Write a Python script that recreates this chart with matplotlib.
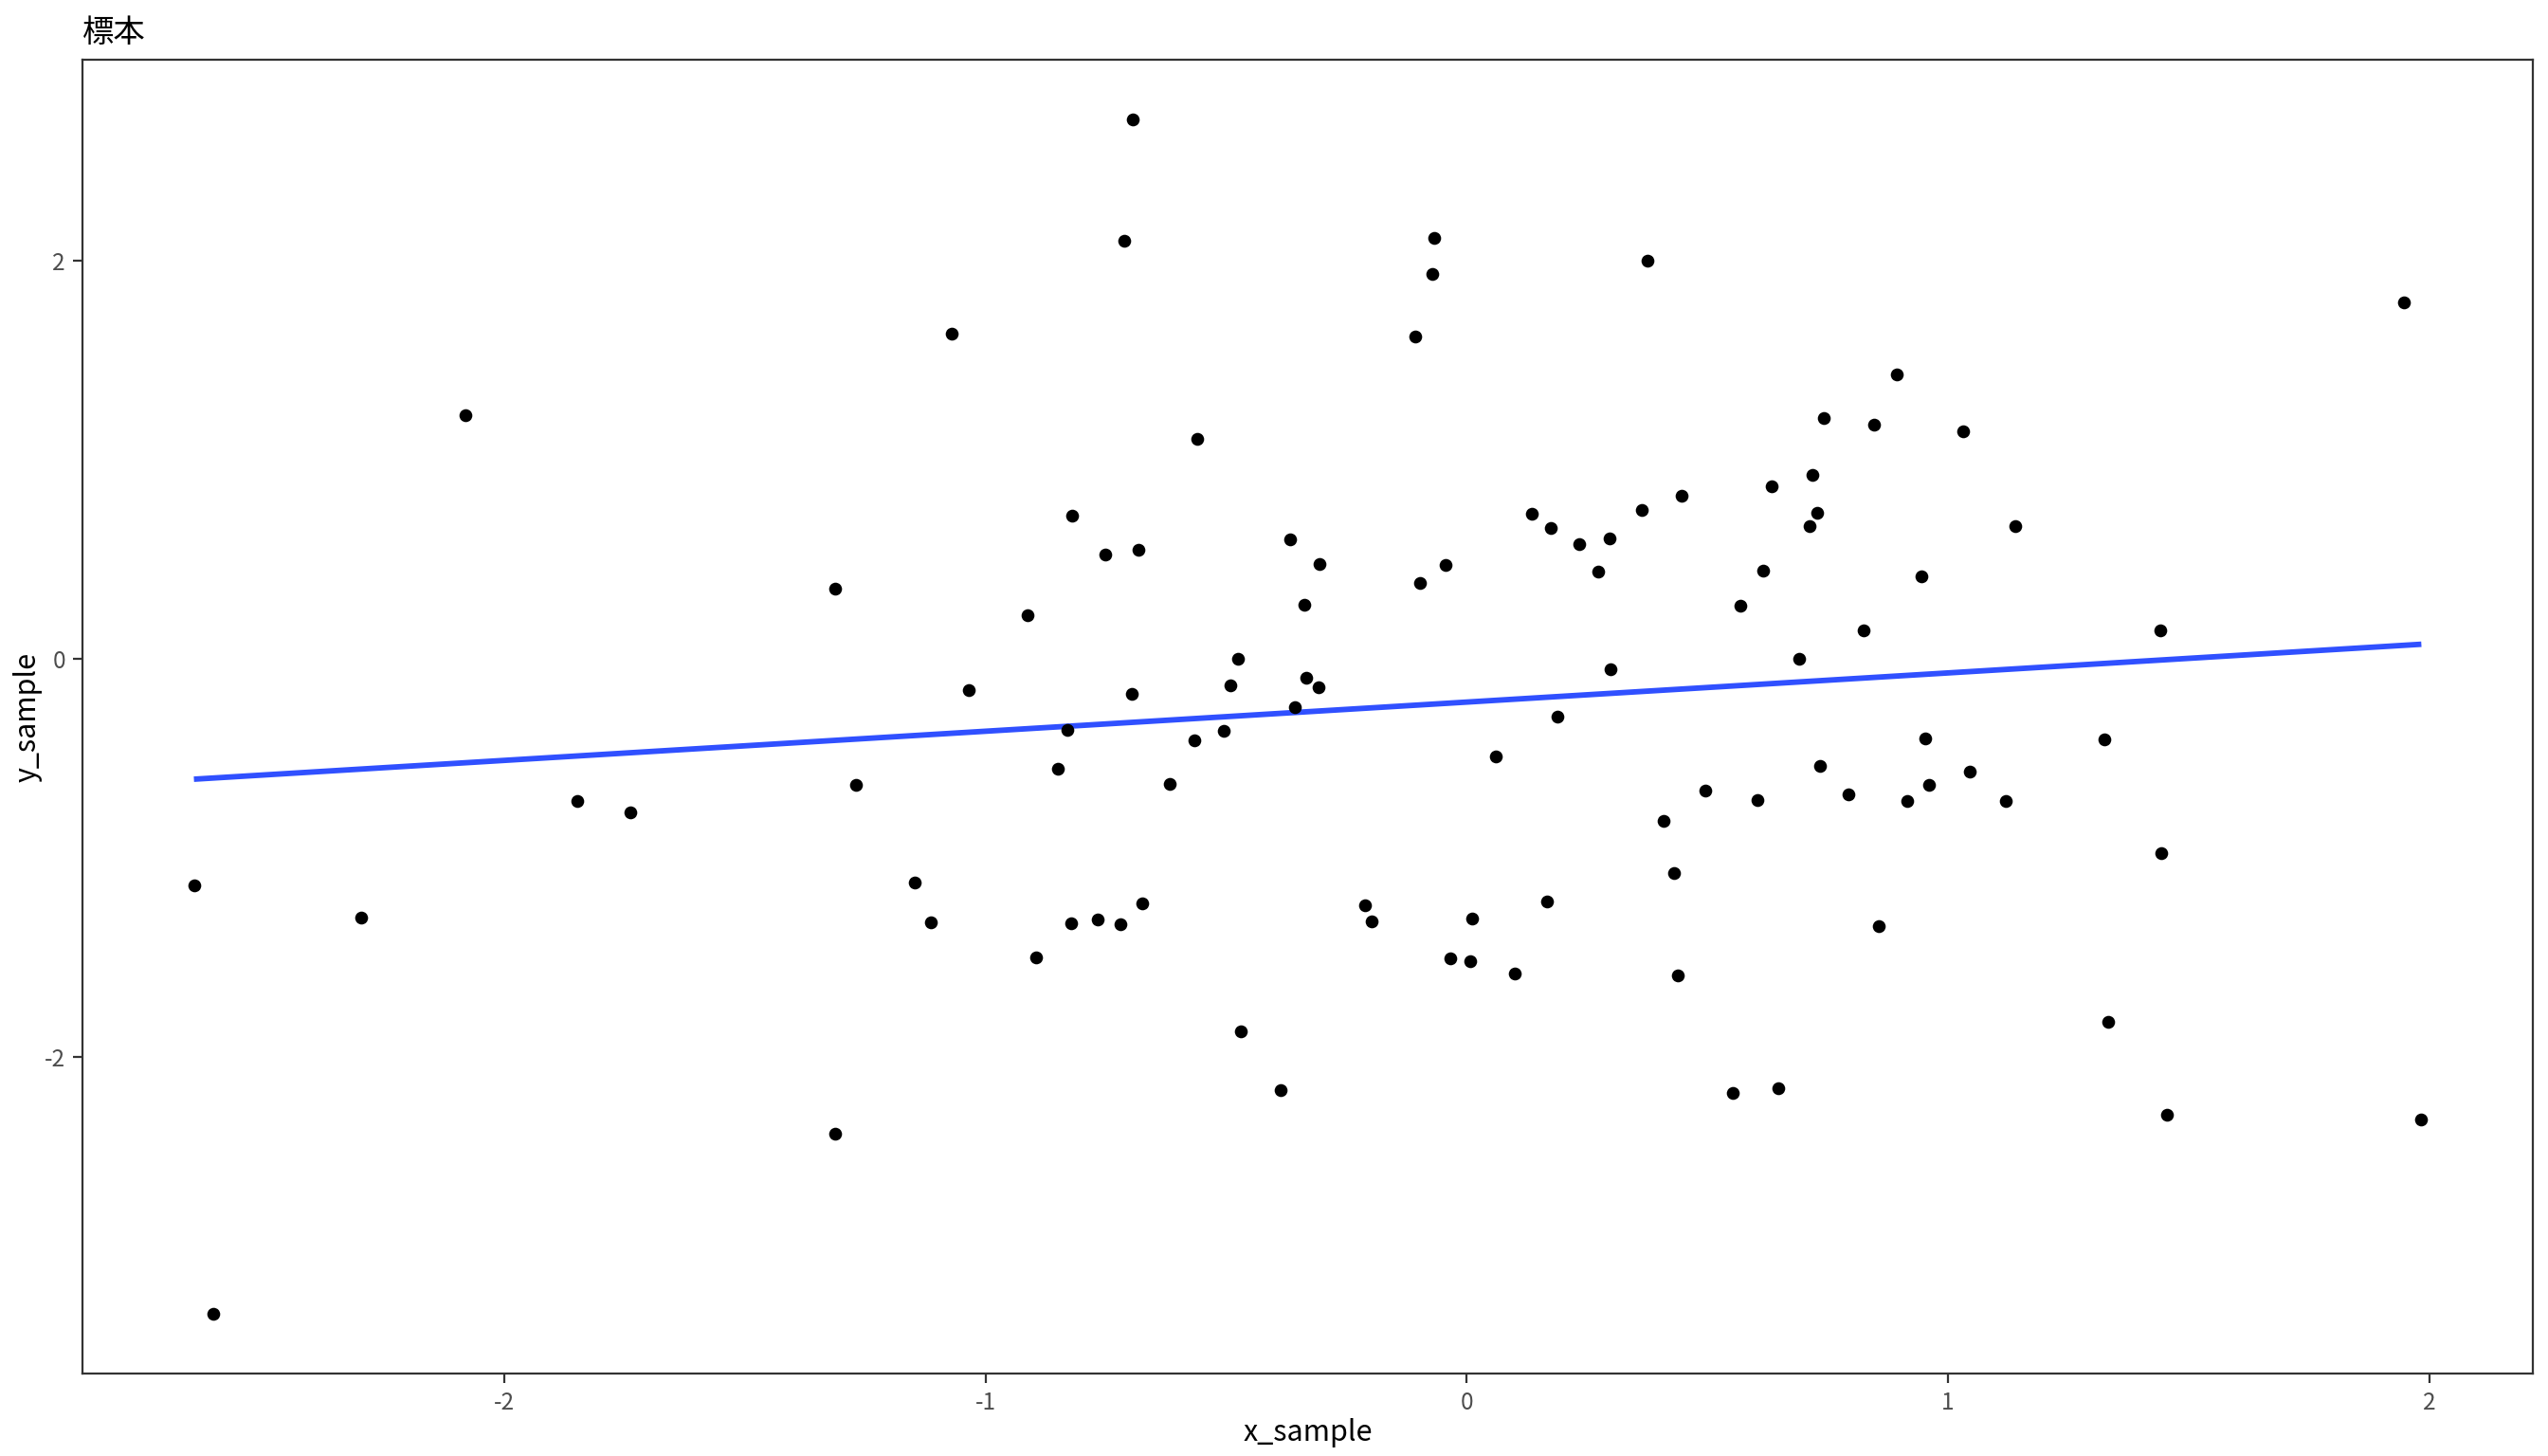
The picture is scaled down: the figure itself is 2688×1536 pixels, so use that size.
import matplotlib
matplotlib.use("Agg")
import matplotlib.pyplot as plt
import numpy as np

plt.rcParams['font.family'] = ['Noto Sans CJK JP', 'DejaVu Sans']
plt.rcParams['axes.unicode_minus'] = False

# sample values
x_sample = np.array([
    -2.646, -2.605, -2.298, -2.082, -1.849, -1.738, -1.313, -1.313, -1.269, -1.147,
    -1.114, -1.070, -1.036, -0.914, -0.896, -0.850, -0.830, -0.820, -0.823, -0.767,
    -0.752, -0.720, -0.712, -0.697, -0.695, -0.682, -0.674, -0.618, -0.566, -0.560,
    -0.505, -0.492, -0.475, -0.469, -0.388, -0.368, -0.357, -0.337, -0.333, -0.308,
    -0.306, -0.212, -0.198, -0.108, -0.097, -0.071, -0.068, -0.044, -0.035, 0.007,
    0.010, 0.061, 0.099, 0.136, 0.166, 0.174, 0.189, 0.233, 0.272, 0.297,
    0.299, 0.363, 0.375, 0.409, 0.431, 0.439, 0.447, 0.495, 0.553, 0.568,
    0.603, 0.616, 0.633, 0.648, 0.691, 0.712, 0.718, 0.729, 0.734, 0.742,
    0.793, 0.824, 0.846, 0.857, 0.894, 0.916, 0.945, 0.953, 0.961, 1.031,
    1.045, 1.120, 1.140, 1.326, 1.333, 1.441, 1.444, 1.455, 1.947, 1.984,
])
y_sample = np.array([
    -1.138, -3.289, -1.301, 1.226, -0.714, -0.771, 0.354, -2.385, -0.632, -1.121,
    -1.325, 1.633, -0.156, 0.218, -1.499, -0.554, -0.356, 0.719, -1.326, -1.309,
    0.525, -1.334, 2.098, -0.174, 2.709, 0.546, -1.226, -0.628, -0.407, 1.105,
    -0.362, -0.131, 0.001, -1.871, -2.165, 0.601, -0.240, 0.273, -0.094, -0.141,
    0.478, -1.237, -1.316, 1.617, 0.381, 1.935, 2.114, 0.473, -1.503, -1.517,
    -1.303, -0.488, -1.582, 0.729, -1.218, 0.659, -0.292, 0.578, 0.436, 0.606,
    -0.052, 0.748, 2.000, -0.812, -1.077, -1.591, 0.818, -0.663, -2.181, 0.267,
    -0.710, 0.443, 0.869, -2.157, -0.001, 0.667, 0.922, 0.733, -0.536, 1.210,
    -0.681, 0.141, 1.177, -1.341, 1.427, -0.712, 0.415, -0.400, -0.633, 1.141,
    -0.568, -0.712, 0.669, -0.404, -1.822, 0.142, -0.975, -2.287, 1.788, -2.311,
])
x_ticks = [-2, -1, 0, 1, 2]
y_ticks = [-2, 0, 2]

fig = plt.figure(figsize=(13.44, 7.68), dpi=200)
ax = fig.add_axes([0.0324, 0.0566, 0.9616, 0.9024])

ax.scatter(x_sample, y_sample, s=24, color='black', linewidths=0, zorder=3)

# linear fit, like geom_smooth(method = "lm", se = FALSE)
slope, intercept = np.polyfit(x_sample, y_sample, 1)
xs = np.array([x_sample.min(), x_sample.max()])
ax.plot(xs, intercept + slope * xs, color='#3050FF', lw=2.1, zorder=2,
        solid_capstyle='butt')

# ggplot-style 5% expansion
xr = x_sample.max() - x_sample.min()
yr = y_sample.max() - y_sample.min()
ax.set_xlim(x_sample.min() - 0.05 * xr, x_sample.max() + 0.05 * xr)
ax.set_ylim(y_sample.min() - 0.05 * yr, y_sample.max() + 0.05 * yr)

ax.set_xticks(x_ticks)
ax.set_yticks(y_ticks)
ax.tick_params(colors='#333333', labelcolor='#4D4D4D', labelsize=8.8,
               length=3.5, width=0.8, pad=3)
for sp in ax.spines.values():
    sp.set_color('#333333')
    sp.set_linewidth(0.8)

ax.set_xlabel('x_sample', fontsize=11, labelpad=1)
ax.set_ylabel('y_sample', fontsize=11, labelpad=1)
ax.set_title('標本', loc='left', fontsize=12, pad=7)

fig.savefig('out.png', dpi=200)
